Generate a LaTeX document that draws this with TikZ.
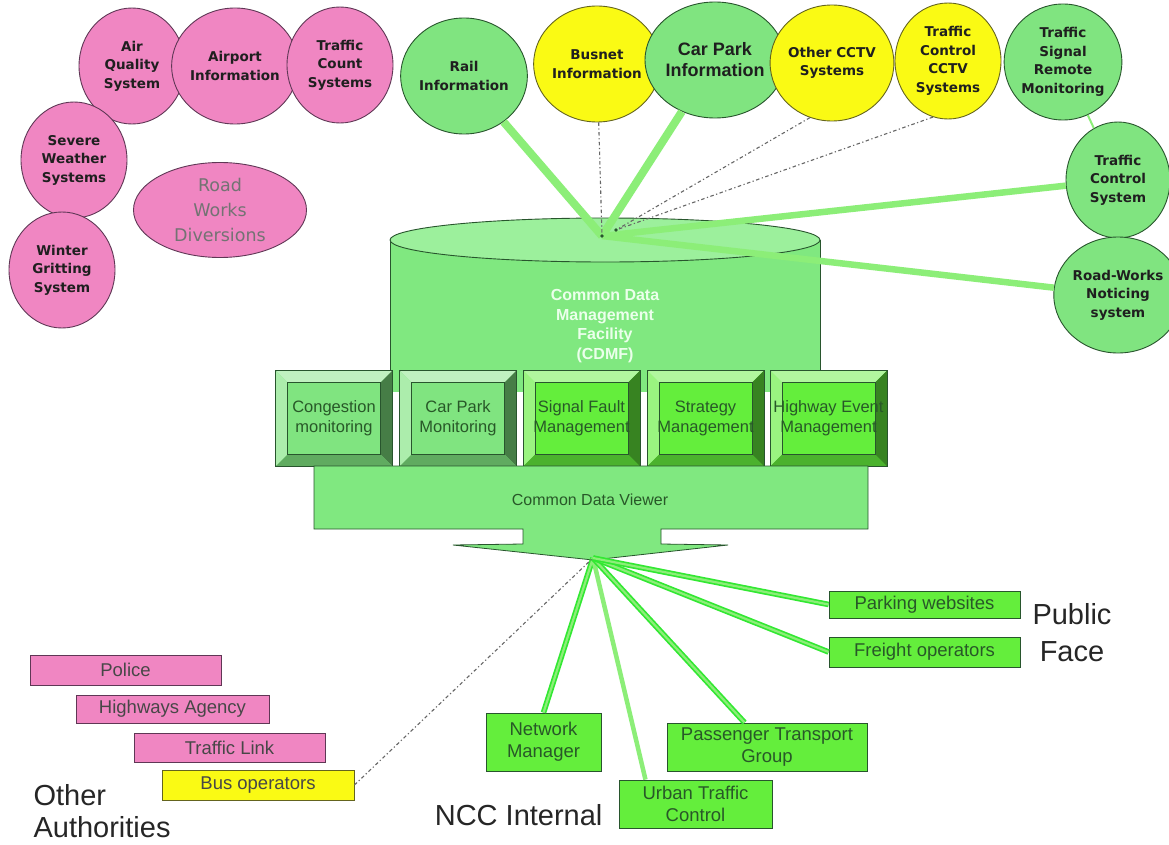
\documentclass[tikz,border=0pt]{standalone}
\usepackage{fontspec}
\setmainfont{Liberation Sans}
\newfontfamily\bulles{DejaVu Sans}
\usetikzlibrary{shapes.geometric}

\definecolor{rose}{RGB}{240,134,194}
\definecolor{bordrose}{RGB}{95,55,85}
\definecolor{vertbulle}{RGB}{128,228,128}
\definecolor{vertcyl}{RGB}{128,232,128}
\definecolor{vertcylhaut}{RGB}{156,240,156}
\definecolor{vertvif}{RGB}{100,238,60}
\definecolor{bordvert}{RGB}{40,85,45}
\definecolor{textevert}{RGB}{40,88,40}
\definecolor{jaune}{RGB}{250,250,20}
\definecolor{bordjaune}{RGB}{100,100,30}
\definecolor{lienclair}{RGB}{140,238,120}
\definecolor{lienvif}{RGB}{50,232,50}

\begin{document}
\begin{tikzpicture}[x=1pt,y=-1pt,
   bulle/.style={ellipse, line width=0.9pt, minimum width=106pt, minimum height=116pt, inner sep=0pt, align=center, text=black!88, font=\bulles\bfseries\fontsize{13.5}{18.5}\selectfont},
   bullerose/.style={bulle, draw=bordrose, fill=rose},
   bulleverte/.style={bulle, draw=bordvert, fill=vertbulle},
   bullejaune/.style={bulle, draw=bordjaune, fill=jaune},
   plat/.style={rectangle, line width=0.8pt, inner sep=0pt, align=center, font=\fontsize{18.5}{22}\selectfont},
   platvert/.style={plat, draw=bordvert, fill=vertvif, text=textevert},
   platrose/.style={plat, draw=bordrose, fill=rose, text=black!72},
   module/.style={rectangle, draw=bordvert, line width=1pt, minimum width=116pt, minimum height=95pt, inner sep=0pt},
   moduletexte/.style={align=center, text=textevert, font=\fontsize{16.5}{20}\selectfont},
   lienlarge/.style={draw=lienclair, line width=8pt},
   liendouble/.style={draw=lienvif, line width=1.7pt, double=lienclair, double distance=2.2pt},
   pointille/.style={draw=black!60, line width=1.1pt, dash pattern=on 3.5pt off 2.5pt on 1.2pt off 2.5pt},
   titre/.style={align=center, text=black!85, font=\fontsize{29}{36}\selectfont}]

   % Cadre de la figure
   \useasboundingbox[fill=white] (0,0) rectangle (1169,845);

   % Le cylindre (CDMF)
   \fill[vertcyl] (390,240) rectangle (820,392);
   \draw[bordvert, line width=0.8pt] (390,240) -- (390,392) (820,240) -- (820,392);
   \draw[bordvert, line width=0.9pt, fill=vertcylhaut] (605,240) ellipse [x radius=215, y radius=22];
   \node[text=white!92!green, align=center, font=\bfseries\fontsize{16}{19.5}\selectfont] (cdmf) at (605,326) {Common Data\\Management\\Facility\\(CDMF)};

   % Les bulles roses
   \foreach \nom/\px/\py/\texte in {airquality/132/66/{Air\\Quality\\System}, airport/235/66/{Airport\\Information}, trafficcount/340/65/{Traffic\\Count\\Systems}, severe/74/160/{Severe\\Weather\\Systems}, winter/62/270/{Winter\\Gritting\\System}} {
      \node[bullerose] (\nom) at (\px,\py) {\texte};
   }
   \node[bullerose, minimum width=173pt, minimum height=95pt, text=black!55, font=\bulles\fontsize{17.5}{25}\selectfont] (roadworks) at (220,210) {Road\\Works\\Diversions};

   % Les sources de donnees en haut
   \node[bulleverte] (rail) at (464,76) {Rail\\Information};
   \node[bullejaune] (busnet) at (597,64) {Busnet\\Information};
   \node[bulleverte, font=\bfseries\fontsize{18}{21}\selectfont] (carpark) at (715,60) {Car Park\\Information};
   \node[bullejaune] (othercctv) at (832,63) {Other CCTV\\Systems};
   \node[bullejaune] (tcctv) at (948,61) {Traffic\\Control\\CCTV\\Systems};
   \node[bulleverte] (tsrm) at (1063,62) {Traffic\\Signal\\Remote\\Monitoring};
   \node[bulleverte, minimum width=104pt] (tcs) at (1118,180) {Traffic\\Control\\System};
   \node[bulleverte, minimum width=104pt] (rwn) at (1118,295) {Road-Works\\Noticing\\system};

   % Liens vers le cylindre
   \coordinate (moyeu) at (602,236);
   \coordinate (moyeub) at (616,230);
   \draw[lienlarge] (rail) -- (moyeu);
   \draw[lienlarge] (carpark) -- (moyeu);
   \draw[lienlarge, line width=6.5pt] (tcs) -- (moyeu);
   \draw[lienlarge, line width=6.5pt] (rwn) -- (moyeu);
   \draw[lienclair, line width=2pt] (tsrm) -- (tcs);
   \draw[pointille] (busnet) -- (moyeu);
   \draw[pointille] (othercctv.-112) -- (moyeub);
   \draw[pointille] (tcctv.-105) -- (moyeub);
   \fill[bordvert] (moyeu) circle (1.8) (moyeub) circle (1.8);

   % Les modules en relief
   \foreach \nom/\cx/\teinte/\texte in {congestion/334/vertbulle/{Congestion\\monitoring}, parkmon/458/vertbulle/{Car Park\\Monitoring}, signal/581.5/vertvif/{Signal Fault\\Management}, strategie/705.5/vertvif/{Strategy\\Management}, evenement/828.5/vertvif/{Highway Event\\Management}} {
      \node[module, fill=\teinte] (\nom) at (\cx,418.5) {};
      % biseaux
      \fill[\teinte!50!white] (\nom.north west) -- (\nom.north east) -- ([shift={(-12,12)}]\nom.north east) -- ([shift={(12,12)}]\nom.north west) -- cycle;
      \fill[\teinte!65!white] (\nom.north west) -- ([shift={(12,12)}]\nom.north west) -- ([shift={(12,-12)}]\nom.south west) -- (\nom.south west) -- cycle;
      \fill[\teinte!55!black] (\nom.north east) -- (\nom.south east) -- ([shift={(-12,-12)}]\nom.south east) -- ([shift={(-12,12)}]\nom.north east) -- cycle;
      \fill[\teinte!75!black] (\nom.south west) -- (\nom.south east) -- ([shift={(-12,-12)}]\nom.south east) -- ([shift={(12,-12)}]\nom.south west) -- cycle;
      \draw[bordvert, line width=0.6pt] ([shift={(12,12)}]\nom.north west) rectangle ([shift={(-12,-12)}]\nom.south east);
      \draw[bordvert, line width=1pt] (\nom.north west) rectangle (\nom.south east);
      \node[moduletexte] (\nom-t) at (\nom) {\texte};
   }

   % La fleche Common Data Viewer
   \draw[bordvert, line width=0.8pt, fill=vertcyl] (314,466) -- (868,466) -- (868,529) -- (661,529) -- (661,544) -- (728,545) -- (593,560) -- (453,545) -- (523,544) -- (523,529) -- (314,529) -- cycle;
   \node[text=textevert, font=\fontsize{16}{19}\selectfont] (cdv) at (590,500) {Common Data Viewer};
   \coordinate (sortie) at (593,558);

   % Les destinataires
   \node[platrose, minimum width=191pt, minimum height=30pt] (police) at (125.5,670) {Police};
   \node[platrose, minimum width=193pt, minimum height=28pt] (highways) at (172.5,709) {Highways Agency};
   \node[platrose, minimum width=191pt, minimum height=29pt] (trafficlink) at (229.5,747.5) {Traffic Link};
   \node[plat, draw=bordjaune, fill=jaune, text=black!72, minimum width=192pt, minimum height=30pt] (bus) at (258,785) {Bus operators};
   \node[platvert, minimum width=191pt, minimum height=27pt] (parking) at (924.5,604.5) {Parking websites};
   \node[platvert, minimum width=191pt, minimum height=30pt] (freight) at (924.5,652) {Freight operators};
   \node[platvert, minimum width=115pt, minimum height=58pt] (netman) at (543.5,742) {Network\\Manager};
   \node[platvert, minimum width=200pt, minimum height=48pt] (ptg) at (767,747) {Passenger Transport\\Group};
   \node[platvert, minimum width=153pt, minimum height=48pt] (utc) at (695.5,804) {Urban Traffic\\Control};

   % Les titres des groupes
   \node[titre, anchor=west, align=left, font=\fontsize{29}{32}\selectfont] (autres) at (30,811) {Other\\Authorities};
   \node[titre, anchor=east] (ncc) at (606,815) {NCC Internal};
   \node[titre, font=\fontsize{29}{37}\selectfont] (public) at (1072,633) {Public\\Face};

   % Liens depuis la fleche
   \draw[liendouble] (sortie) -- (netman.north);
   \draw[lienclair, line width=4.5pt] (sortie) -- (utc.154);
   \draw[liendouble] (sortie) -- (ptg);
   \draw[liendouble] (sortie) -- (freight.west);
   \draw[liendouble] (sortie) -- (parking.west);
   \draw[pointille] (bus.east) -- (sortie);
\end{tikzpicture}
\end{document}
